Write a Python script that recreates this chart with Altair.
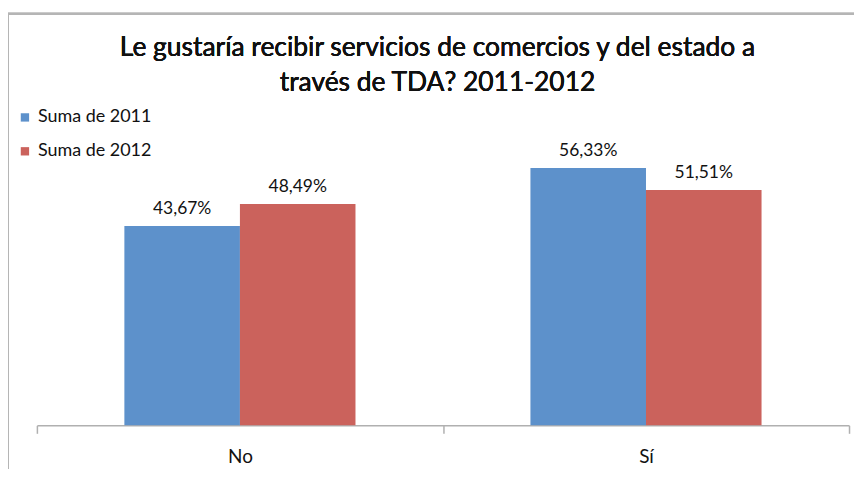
import altair as alt
import pandas as pd

categories = ["No", "No", "Sí", "Sí"]
series = ["Suma de 2011", "Suma de 2012", "Suma de 2011", "Suma de 2012"]
values = [43.67, 48.49, 56.33, 51.51]
labels = ["43,67%", "48,49%", "56,33%", "51,51%"]
title_lines = ["Le gustaría recibir servicios de comercios y del estado a", "través de TDA? 2011-2012"]
colors = ["#5D91CB", "#CB625C"]

df = pd.DataFrame({"cat": categories, "serie": series, "val": values, "lab": labels})
FONT = "Lato"

x = alt.X("cat:N", sort=["No", "Sí"], title=None,
          scale=alt.Scale(paddingInner=0, paddingOuter=0),
          axis=alt.Axis(labelAngle=0, labelFont=FONT, labelFontSize=19, labelColor="#111",
                        domainColor="#b0b0b0", tickColor="#b0b0b0", tickSize=8, tickBand="extent",
                        labelPadding=14, domainWidth=1.5, tickWidth=1.5))
xo = alt.XOffset("serie:N", scale=alt.Scale(paddingInner=0, paddingOuter=0.757))
y = alt.Y("val:Q", scale=alt.Scale(domain=[0, 60]), axis=None)

bars = alt.Chart(df).mark_bar().encode(
    x=x, xOffset=xo, y=y,
    color=alt.Color("serie:N", scale=alt.Scale(range=colors), title=None,
                    legend=alt.Legend(orient="none", legendX=-21, legendY=-43, symbolType="square",
                                      symbolSize=70, symbolStrokeWidth=0, labelFont=FONT,
                                      labelFontSize=18, labelColor="#111", rowPadding=16, labelOffset=4))
)
text = alt.Chart(df).mark_text(baseline="bottom", dy=-8, font=FONT, fontSize=17.5, color="#111").encode(
    x=x, xOffset=xo, y=y, text="lab:N"
)
frame = alt.Chart(df).mark_rect(fill=None, stroke="#b5b5b5", strokeWidth=2).encode(
    x=alt.value(-29), x2=alt.value(900), y=alt.value(-138), y2=alt.value(500)
)
t1 = alt.Chart(df).mark_text(font=FONT, fontSize=26.5, fontWeight="normal", color="#111", baseline="middle").encode(
    x=alt.value(402), y=alt.value(-104), text=alt.value(title_lines[0]))
t2 = alt.Chart(df).mark_text(font=FONT, fontSize=26.5, fontWeight="normal", color="#111", baseline="middle").encode(
    x=alt.value(402), y=alt.value(-69), text=alt.value(title_lines[1]))

chart = alt.layer(frame, bars, text, t1, t2).properties(
    width=815, height=275,
    autosize=alt.AutoSizeParams(type="none"),
    padding={"left": 29, "top": 143, "right": 5, "bottom": 43},
).configure_view(stroke=None)

chart.save("out.html", embed_options={"renderer": "svg", "actions": False})
